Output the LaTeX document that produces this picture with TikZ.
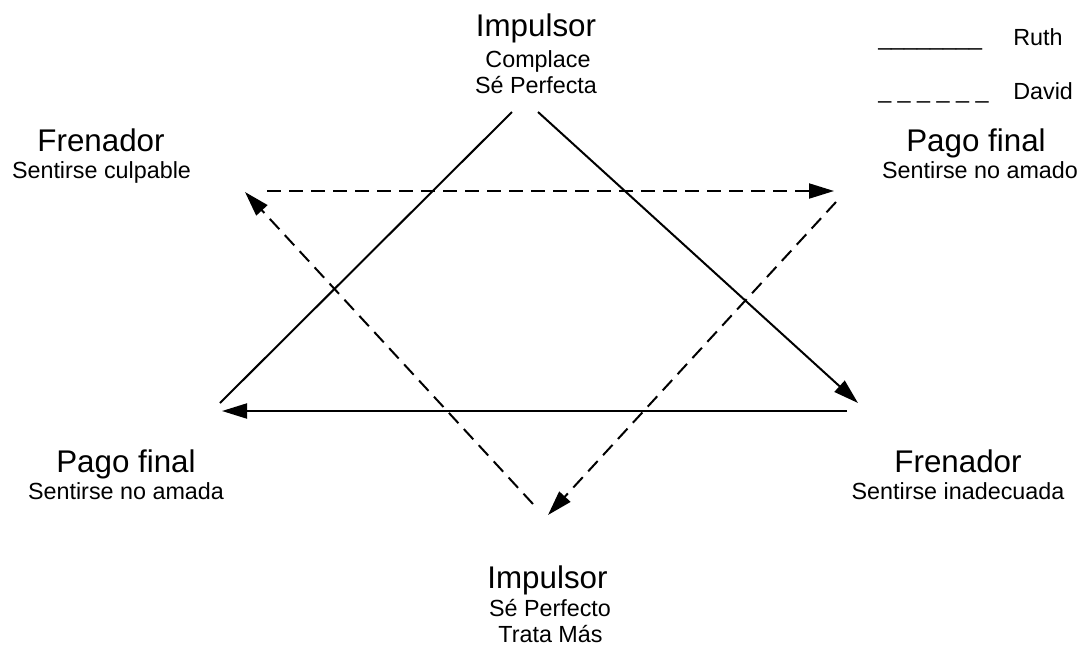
\documentclass[tikz,border=0pt]{standalone}
\usepackage{fontspec}
\setmainfont{Liberation Sans}
\usetikzlibrary{arrows.meta}
\begin{document}
\begin{tikzpicture}[x=0.75pt,y=-0.75pt,
 big/.style={anchor=base,inner sep=0pt,font=\fontsize{23.5}{28}\selectfont},
 small/.style={anchor=base,inner sep=0pt,font=\fontsize{17.5}{21}\selectfont},
 legend/.style={anchor=base west,inner sep=0pt,font=\fontsize{17.5}{21}\selectfont},
 tip/.style={-{Triangle[length=18.75pt,width=11.25pt]}},
 ruthline/.style={line width=1.5pt},
 davidline/.style={line width=1.5pt,dash pattern=on 10.5pt off 6pt}]
\useasboundingbox (0,0) rectangle (1083,647);
% texts
\node[big]   (impA)  at (536,36)  {Impulsor};
\node[small] (impA1) at (538,67)  {Complace};
\node[small] (impA2) at (536,93)  {Sé Perfecta};
\node[big]   (freA)  at (101,151) {Frenador};
\node[small] (freA1) at (101.5,178) {Sentirse culpable};
\node[big]   (pagA)  at (976,151) {Pago final};
\node[small] (pagA1) at (980,178) {Sentirse no amado};
\node[big]   (pagB)  at (126,472) {Pago final};
\node[small] (pagB1) at (126,499) {Sentirse no amada};
\node[big]   (freB)  at (958,472) {Frenador};
\node[small] (freB1) at (958,499) {Sentirse inadecuada};
\node[big]   (impB)  at (547.5,588) {Impulsor};
\node[small] (impB1) at (550,616) {Sé Perfecto};
\node[small] (impB2) at (550.5,642) {Trata Más};
% legend
\node[legend] (legR) at (878,45) {\_\_\_\_\_\_\_\_};
\node[legend] (legRt) at (1013,45) {Ruth};
\node[legend] (legD) at (878,98) {\_ \_ \_ \_ \_ \_};
\node[legend] (legDt) at (1013,99) {David};
% Ruth (solid) triangle
\coordinate (r1) at (220,403);
\coordinate (r2) at (512,112);
\coordinate (r3) at (538,112);
\coordinate (r4) at (858,403);
\coordinate (r5) at (847,411);
\coordinate (r6) at (222,411);
\draw[ruthline] (r1) -- (r2);
\draw[ruthline,tip] (r3) -- (r4);
\draw[ruthline,tip] (r5) -- (r6);
% David (dashed) triangle
\coordinate (d1) at (267,191);
\coordinate (d2) at (834,191);
\coordinate (d3) at (836,202);
\coordinate (d4) at (548,515);
\coordinate (d5) at (533,504);
\coordinate (d6) at (245,192);
\draw[davidline,tip] (d1) -- (d2);
\draw[davidline,tip] (d3) -- (d4);
\draw[davidline,tip] (d5) -- (d6);
\end{tikzpicture}
\end{document}
